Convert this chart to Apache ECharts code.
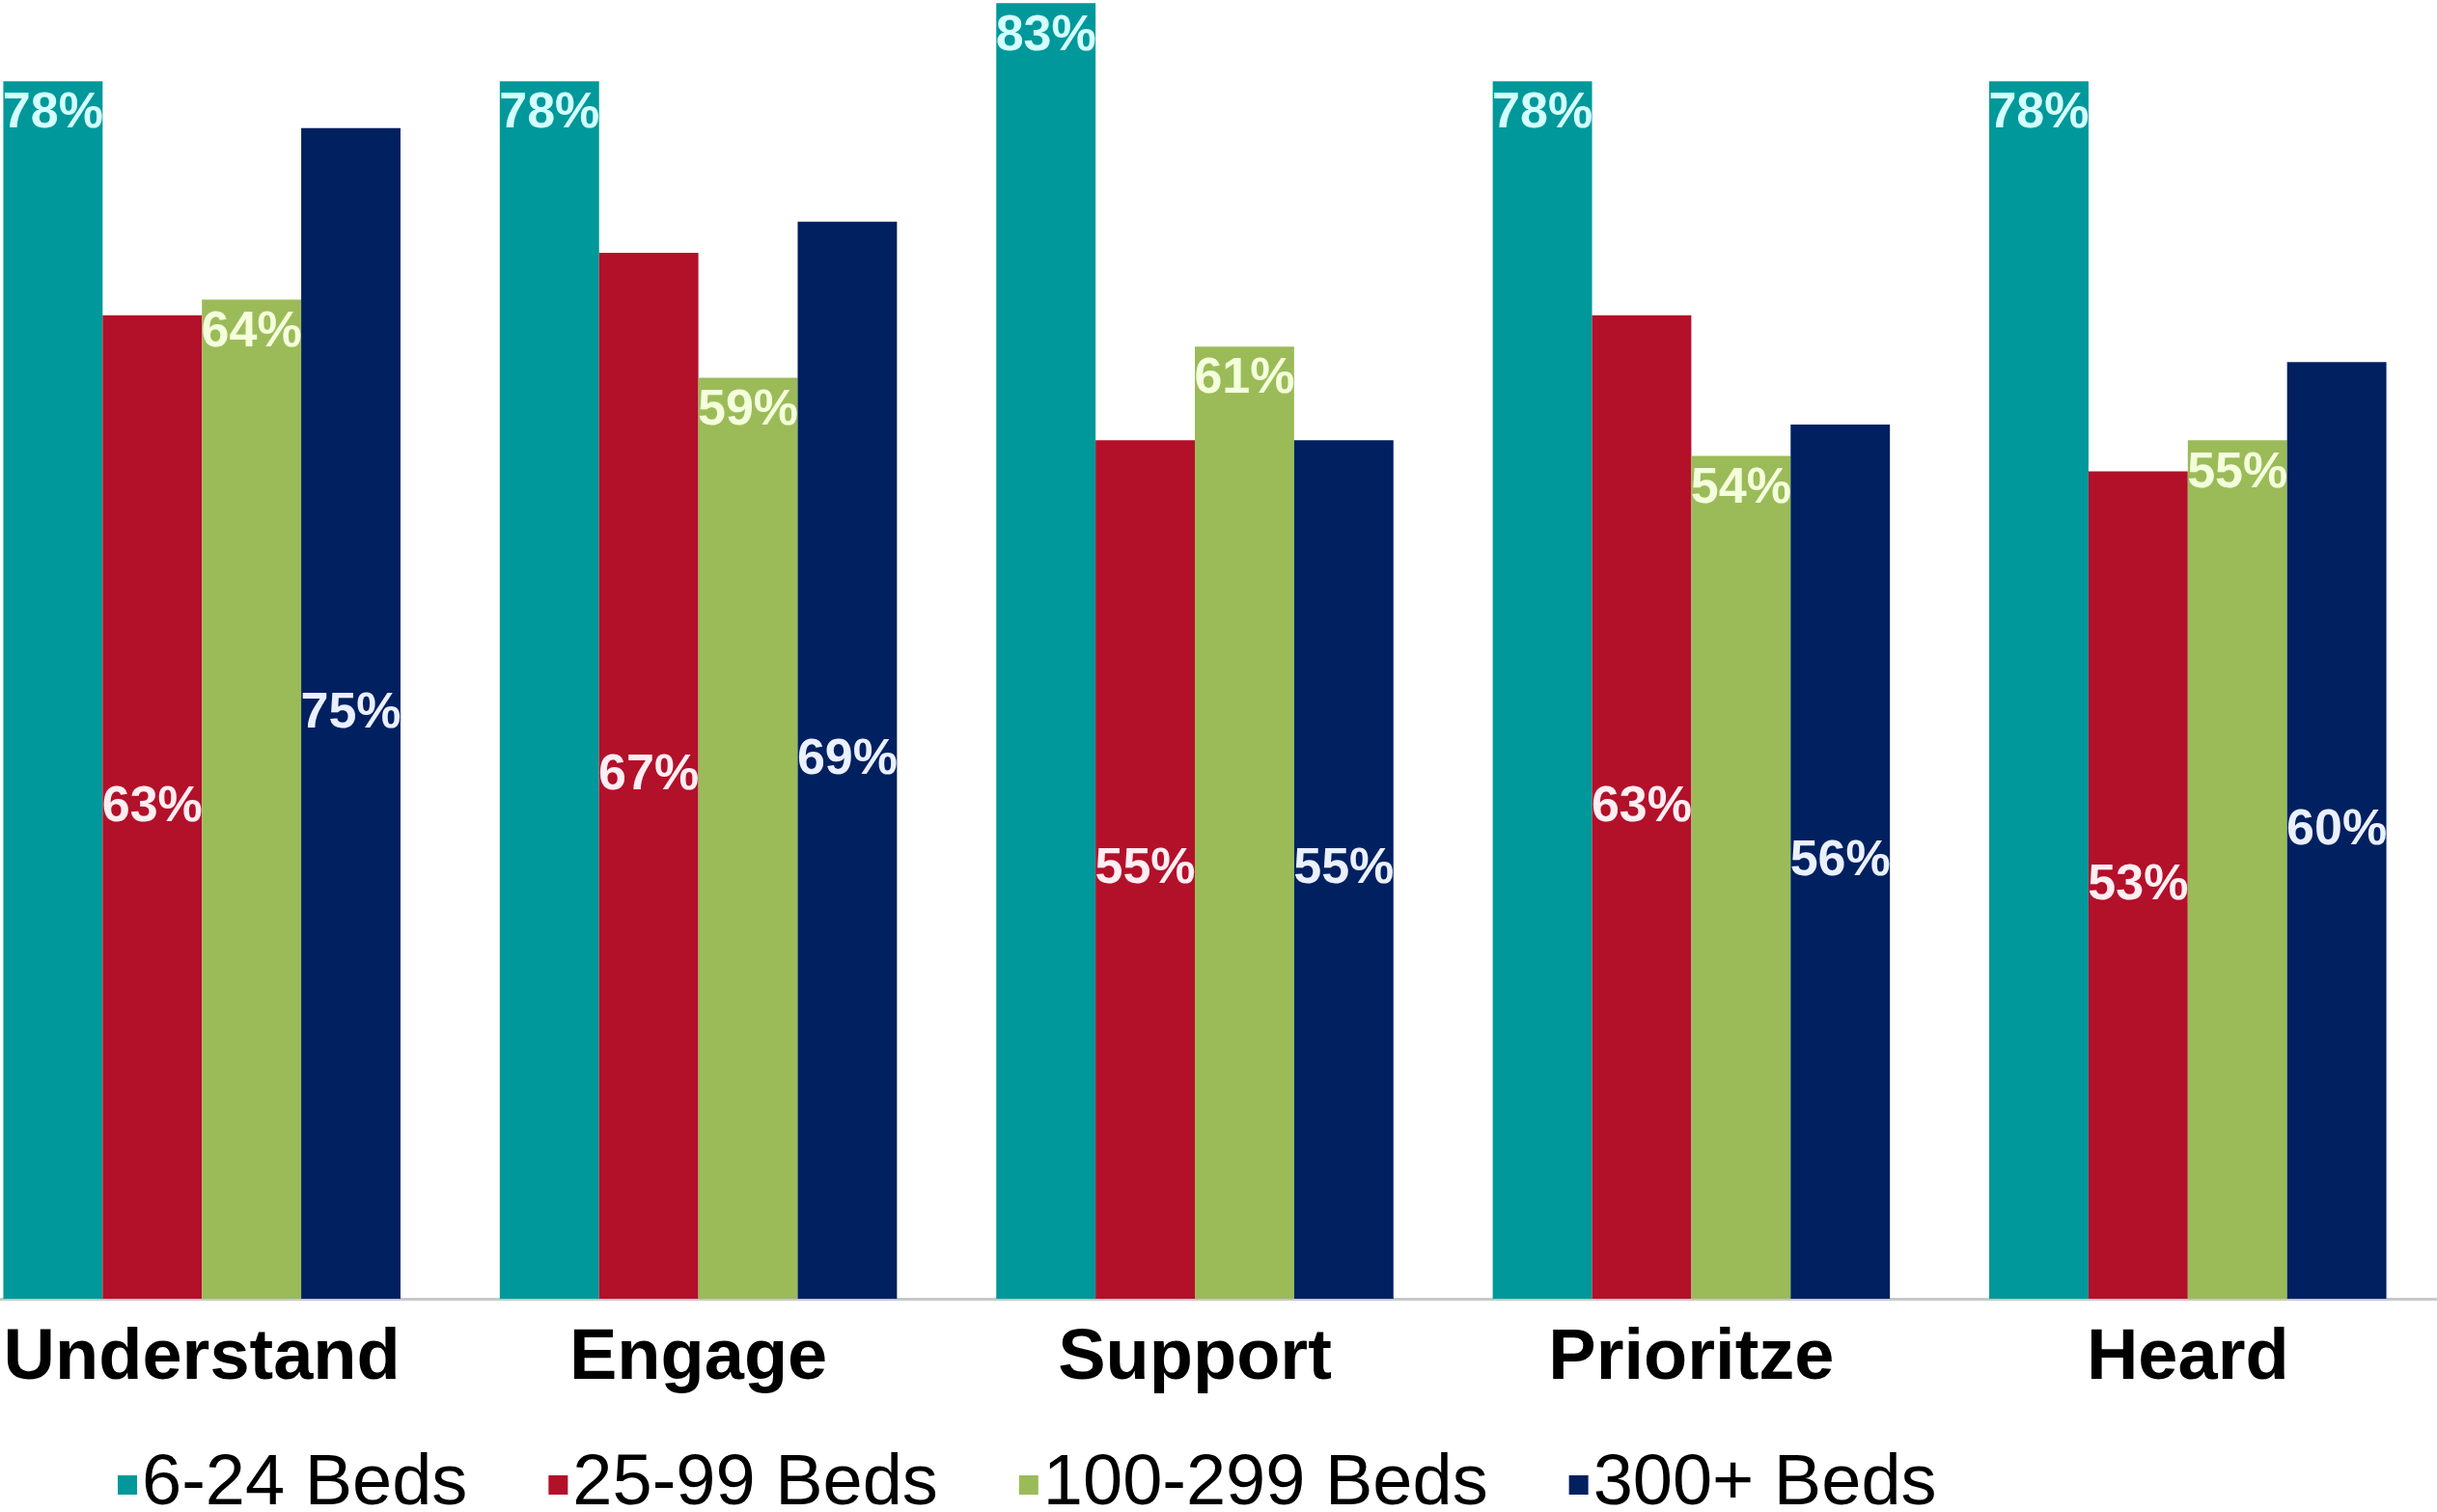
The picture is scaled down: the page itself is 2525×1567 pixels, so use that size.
<!DOCTYPE html>
<html>
<head>
<meta charset="utf-8">
<script src="https://cdn.jsdelivr.net/npm/echarts@6/dist/echarts.min.js"></script>
<style>
  html, body { margin: 0; padding: 0; background: #fff; }
  #chart { width: 2525px; height: 1567px; }
</style>
</head>
<body>
<div id="chart"></div>
<script>
var categories = ['Understand', 'Engage', 'Support', 'Prioritze', 'Heard'];
var seriesNames = ['6-24 Beds', '25-99 Beds', '100-299 Beds', '300+ Beds'];
var beds6to24 = [78, 78, 83, 78, 78];
var beds25to99 = [63, 67, 55, 63, 53];
var beds100to299 = [64, 59, 61, 54, 55];
var beds300plus = [75, 69, 55, 56, 60];

var font = '"Liberation Sans", Arial, sans-serif';

function barSeries(name, data, color, labelColor, pos) {
    return {
        name: name,
        type: 'bar',
        data: data,
        barGap: 0,
        barCategoryGap: '20%',
        itemStyle: { color: color },
        label: {
            show: true,
            position: pos,
            distance: 8,
            formatter: '{c}%',
            color: labelColor,
            fontFamily: font,
            fontWeight: 'bold',
            fontSize: 52
        }
    };
}

var myChart = echarts.init(document.getElementById('chart'));

myChart.setOption({
    animation: false,
    grid: {
        left: -48,
        width: 2572,
        top: 0,
        bottom: 221,
        outerBoundsMode: 'none'
    },
    legend: {
        left: 117,
        top: 1497,
        icon: 'rect',
        itemWidth: 20,
        itemHeight: 20,
        itemGap: 84,
        textStyle: {
            fontFamily: font,
            fontSize: 74,
            color: '#000'
        },
        data: seriesNames
    },
    xAxis: {
        type: 'category',
        data: categories,
        axisLine: { lineStyle: { color: '#c8c8c8', width: 3 } },
        axisTick: { show: false },
        axisLabel: {
            interval: 0,
            hideOverlap: false,
            margin: 26,
            color: '#000',
            fontFamily: font,
            fontWeight: 'bold',
            fontSize: 74
        }
    },
    yAxis: {
        type: 'value',
        min: 0,
        max: 83.2,
        show: false,
        splitLine: { show: false }
    },
    series: [
        barSeries(seriesNames[0], beds6to24, '#00989a', '#d4ffff', 'insideTop'),
        barSeries(seriesNames[1], beds25to99, '#b3102a', '#ffeef2', 'inside'),
        barSeries(seriesNames[2], beds100to299, '#9bbb59', '#f4ffdc', 'insideTop'),
        barSeries(seriesNames[3], beds300plus, '#002060', '#eaf0ff', 'inside')
    ]
});
</script>
</body>
</html>
